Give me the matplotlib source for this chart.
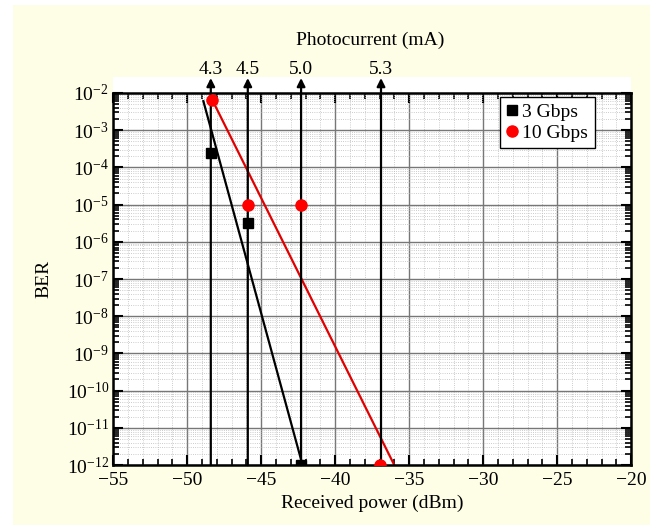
import matplotlib
matplotlib.use("Agg")
import matplotlib.pyplot as plt
import matplotlib.ticker as mticker
from matplotlib.patches import Rectangle
import numpy as np

plt.rcParams['font.family'] = ['Liberation Serif', 'DejaVu Serif']
plt.rcParams['mathtext.fontset'] = 'stix'

# Measured BER points
power_3g = [-48.4, -45.9, -42.3]
ber_3g = [2.5e-4, 3.3e-6, 1e-12]
power_10g = [-48.3, -45.9, -42.3, -37.0]
ber_10g = [6.5e-3, 1e-5, 1e-5, 1e-12]

# Fitted trend lines (end points)
fit_3g_x = [-48.9, -42.2]
fit_3g_y = [6e-3, 1e-12]
fit_10g_x = [-48.3, -36.0]
fit_10g_y = [6.5e-3, 1e-12]

# Photocurrent markers on top
photo_power = [-48.4, -45.9, -42.3, -36.9]
photo_labels = ['4.3', '4.5', '5.0', '5.3']

fig = plt.figure(figsize=(6.5, 5.25), dpi=100, facecolor='white')
fig.patches.append(Rectangle((13 / 650, 0), 1 - 13 / 650, 1 - 5 / 525,
                             transform=fig.transFigure, facecolor='#fefde6',
                             edgecolor='none', zorder=-10))
ax = fig.add_axes([0.174, 0.114, 0.797, 0.709])
fig.patches.append(Rectangle((0.174, 0.823), 0.797, 0.03,
                             transform=fig.transFigure, facecolor='white',
                             edgecolor='none', zorder=-5))

ax.set_yscale('log')
ax.set_xlim(-55, -20)
ax.set_ylim(1e-12, 1e-2)

ax.xaxis.set_major_locator(mticker.MultipleLocator(5))
ax.xaxis.set_minor_locator(mticker.MultipleLocator(1))
ax.yaxis.set_major_locator(mticker.LogLocator(base=10, numticks=20))
ax.yaxis.set_minor_locator(mticker.LogLocator(base=10, subs=np.arange(2, 10), numticks=20))
ax.yaxis.set_minor_formatter(mticker.NullFormatter())
ax.xaxis.set_major_formatter(mticker.FuncFormatter(lambda v, p: f'\u2212{abs(int(v))}' if v < 0 else f'{int(v)}'))

ax.grid(which='major', color='#777777', linewidth=1.0, linestyle='-')
ax.grid(which='minor', color='#bbbbbb', linewidth=0.6, linestyle=':')
ax.set_axisbelow(True)

ax.tick_params(which='both', direction='in', top=True, right=True, labelsize=14, pad=3)
ax.tick_params(axis='x', which='major', pad=5)
ax.tick_params(which='major', length=7, width=1.5)
ax.tick_params(which='minor', length=4, width=1.2)
for s in ax.spines.values():
    s.set_linewidth(1.8)

# vertical photocurrent arrows
for xp, lab in zip(photo_power, photo_labels):
    ax.annotate('', xy=(xp, 1.04), xycoords=('data', 'axes fraction'),
                xytext=(xp, 0), textcoords=('data', 'axes fraction'),
                arrowprops=dict(arrowstyle='-|>', color='black', lw=1.6,
                                mutation_scale=12, shrinkA=0, shrinkB=0),
                annotation_clip=False)
    ax.text(xp, 1.04, lab, transform=ax.get_xaxis_transform(),
            ha='center', va='bottom', fontsize=14)

ax.plot(fit_3g_x, fit_3g_y, color='black', lw=1.6)
ax.plot(fit_10g_x, fit_10g_y, color='#e00000', lw=1.6)
ax.plot(power_3g, ber_3g, 's', color='black', ms=7, label='3 Gbps', zorder=5, clip_on=True)
ax.plot(power_10g, ber_10g, 'o', color='#ff0000', ms=8, label='10 Gbps', zorder=5, clip_on=True)

leg = ax.legend(loc='upper right', bbox_to_anchor=(0.93, 0.99), fontsize=14,
                frameon=True, fancybox=False, edgecolor='black', framealpha=1,
                handlelength=0.6, handletextpad=0.2, borderpad=0.35, labelspacing=0.15,
                borderaxespad=0)
leg.get_frame().set_linewidth(1.0)

ax.set_xlabel('Received power (dBm)', fontsize=14, labelpad=4)
ax.set_ylabel('BER', fontsize=14, labelpad=10)
fig.text(370 / 650, 1 - 40 / 525, 'Photocurrent (mA)',
         ha='center', va='center', fontsize=14)

fig.savefig('out.png', dpi=100, facecolor=fig.get_facecolor())
